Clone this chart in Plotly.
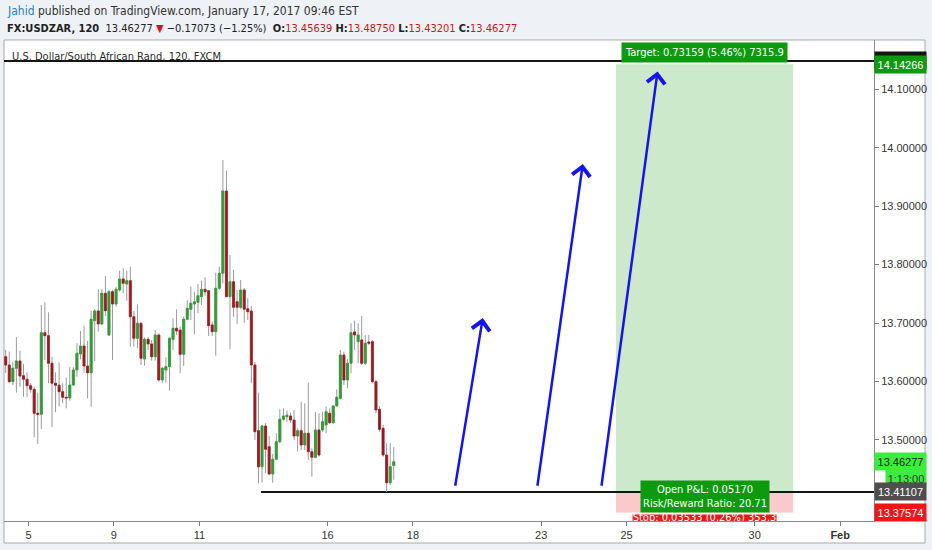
import numpy as np
import plotly.graph_objects as go

# USDZAR 2h bars (FXCM), Jan 4 - Jan 17 2017; x is the bar number, weekends skipped
opens = [13.6425, 13.6283, 13.5998, 13.6227, 13.6352, 13.6100, 13.6039, 13.5929, 13.5867, 13.5457,
         13.5440, 13.6836, 13.6785, 13.6312, 13.5970, 13.5936, 13.5826, 13.5731, 13.5719, 13.5941,
         13.6198, 13.6471, 13.6608, 13.6266, 13.6152, 13.7041, 13.7207, 13.6985, 13.7510, 13.6797,
         13.7537, 13.7327, 13.7567, 13.7755, 13.7669, 13.7726, 13.7110, 13.6740, 13.6997, 13.6386,
         13.6723, 13.6643, 13.6425, 13.6797, 13.6027, 13.6198, 13.6254, 13.6723, 13.6911, 13.6882,
         13.6466, 13.7065, 13.7236, 13.7327, 13.7356, 13.7452, 13.7578, 13.7555, 13.6968, 13.6853,
         13.7596, 13.7852, 13.9260, 13.7452, 13.7708, 13.7366, 13.7270, 13.7567, 13.7246, 13.7207,
         13.6283, 13.5159, 13.4543, 13.5240, 13.4885, 13.4418, 13.4670, 13.4971, 13.5354, 13.5399,
         13.5411, 13.5342, 13.5068, 13.5159, 13.4914, 13.5115, 13.4800, 13.4704, 13.5171, 13.5171,
         13.5257, 13.5457, 13.5296, 13.5582, 13.5713, 13.6454, 13.6027, 13.6312, 13.6848, 13.6682,
         13.6711, 13.6312, 13.6677, 13.6682, 13.5998, 13.5525, 13.5200, 13.4743, 13.4269, 13.45639]
highs = [13.6540, 13.6511, 13.6340, 13.6762, 13.6528, 13.6300, 13.6158, 13.5975, 13.5912, 13.5809,
         13.7310, 13.7356, 13.7185, 13.6425, 13.6158, 13.6329, 13.5970, 13.6066, 13.6244, 13.6244,
         13.6655, 13.6865, 13.6951, 13.6694, 13.7212, 13.7236, 13.7578, 13.7578, 13.7806, 13.7567,
         13.7567, 13.7623, 13.7897, 13.7938, 13.7897, 13.7965, 13.7207, 13.7322, 13.7007, 13.6757,
         13.6757, 13.6711, 13.6882, 13.6826, 13.6254, 13.6415, 13.6757, 13.7082, 13.7236, 13.6939,
         13.7110, 13.7395, 13.7623, 13.7537, 13.7669, 13.7726, 13.7784, 13.7555, 13.7024, 13.7862,
         13.7965, 13.9791, 13.9608, 13.8165, 13.7909, 13.7567, 13.7738, 13.7596, 13.7424, 13.7293,
         13.6335, 13.5809, 13.5257, 13.5286, 13.5068, 13.4760, 13.5115, 13.5525, 13.5542, 13.5501,
         13.5467, 13.5513, 13.5200, 13.5655, 13.5628, 13.5980, 13.4858, 13.5484, 13.5457, 13.5484,
         13.5570, 13.5542, 13.5599, 13.5867, 13.6540, 13.6511, 13.6381, 13.6997, 13.7041, 13.6997,
         13.7122, 13.6797, 13.6797, 13.6711, 13.6027, 13.5582, 13.5257, 13.4944, 13.4944, 13.48750]
lows = [13.6146, 13.5975, 13.5941, 13.5809, 13.5912, 13.5741, 13.5731, 13.5809, 13.5046, 13.4932,
        13.5183, 13.6369, 13.5970, 13.5217, 13.5474, 13.5570, 13.5628, 13.5542, 13.5672, 13.5924,
        13.6083, 13.6381, 13.6152, 13.5713, 13.5570, 13.6352, 13.6853, 13.6968, 13.7122, 13.6780,
        13.6369, 13.7281, 13.7537, 13.7510, 13.7383, 13.6596, 13.6596, 13.6569, 13.6283, 13.6271,
        13.6540, 13.6357, 13.6357, 13.5998, 13.5970, 13.5980, 13.5844, 13.6540, 13.6797, 13.6141,
        13.6266, 13.7053, 13.7053, 13.6808, 13.7168, 13.7310, 13.7464, 13.6779, 13.6779, 13.6442,
        13.7567, 13.7681, 13.7440, 13.6552, 13.7110, 13.6985, 13.7236, 13.7007, 13.7053, 13.5970,
        13.5000, 13.4259, 13.4269, 13.4430, 13.4401, 13.4269, 13.4658, 13.4944, 13.5330, 13.5313,
        13.5296, 13.5000, 13.4800, 13.4829, 13.4829, 13.4658, 13.4372, 13.4687, 13.4714, 13.5142,
        13.5115, 13.5274, 13.5274, 13.5570, 13.5696, 13.5941, 13.5885, 13.6141, 13.6540, 13.6312,
        13.6283, 13.6283, 13.6625, 13.5970, 13.5457, 13.5142, 13.4714, 13.4111, 13.4230, 13.43201]
closes = [13.6283, 13.5998, 13.6227, 13.6352, 13.6095, 13.6039, 13.5929, 13.5867, 13.5457, 13.5440,
          13.6836, 13.6785, 13.6312, 13.5970, 13.5936, 13.5826, 13.5731, 13.5719, 13.5941, 13.6198,
          13.6483, 13.6608, 13.6266, 13.6152, 13.7065, 13.7207, 13.6985, 13.7510, 13.7212, 13.7537,
          13.7327, 13.7578, 13.7755, 13.7681, 13.7726, 13.7110, 13.6740, 13.6997, 13.6398, 13.6723,
          13.6643, 13.6425, 13.6797, 13.6027, 13.6227, 13.6254, 13.6740, 13.6911, 13.6865, 13.6466,
          13.7065, 13.7253, 13.7339, 13.7366, 13.7469, 13.7578, 13.7537, 13.6956, 13.6853, 13.7596,
          13.7852, 13.9260, 13.7452, 13.7708, 13.7270, 13.7270, 13.7567, 13.7236, 13.7195, 13.6283,
          13.5142, 13.4543, 13.5240, 13.4841, 13.4418, 13.4670, 13.4971, 13.5354, 13.5411, 13.5423,
          13.5342, 13.5068, 13.5159, 13.4914, 13.5115, 13.4800, 13.4704, 13.5171, 13.4743, 13.5313,
          13.5484, 13.5296, 13.5582, 13.5731, 13.6454, 13.6027, 13.6312, 13.6836, 13.6797, 13.6797,
          13.6312, 13.6655, 13.6655, 13.5998, 13.5513, 13.5183, 13.4743, 13.4269, 13.4543, 13.46277]

day_ticks = [6.4, 30.4, 54.4, 90.4, 114.4, 150.4, 174.4, 210.4, 234.4]
day_labels = ['5', '9', '11', '16', '18', '23', '25', '30', '<b>Feb</b>']
price_ticks = [13.5, 13.6, 13.7, 13.8, 13.9, 14.0, 14.1]

resistance = 14.1485
support = 13.41107
support_start = 71.7
target = 14.14266
stop = 13.37574
last_price = 13.46277

# long position tool span (bars) and the three hand drawn arrows (bar, price)
pos_start, pos_end = 171.4, 221.2
arrow_tails = [(126.2, 13.4191), (149.3, 13.4191), (167.3, 13.4191)]
arrow_heads = [(134.0, 13.7085), (162.1, 13.9722), (183.1, 14.1306)]

COND = 'DejaVu Sans Condensed, Liberation Sans, sans-serif'
AXF = 'Liberation Sans, Arial, sans-serif'
GREEN = '#2c9f31'
RED = '#a3161a'
WICK = '#9a9a9a'
TV_GREEN = '#0e9a0e'

# plot area in pixels, used to place paper-referenced bits
L, R, T, B = 4, 874, 40, 521
X_RANGE = [-0.48, 243.9]
Y_RANGE = [13.3614, 14.1843]


def px(x):
    return (x - L) / (R - L)


def py(y):
    return (B - y) / (B - T)


idx = np.arange(len(opens))
o = np.array(opens)
c = np.array(closes)
body_hi = np.maximum(o, c)
body_lo = np.minimum(o, c)

fig = go.Figure()
# wicks first (grey), bodies drawn on top
fig.add_trace(go.Candlestick(
    x=idx, open=opens, high=highs, low=lows, close=closes,
    increasing=dict(line=dict(color=WICK, width=1), fillcolor=WICK),
    decreasing=dict(line=dict(color=WICK, width=1), fillcolor=WICK),
    whiskerwidth=0, showlegend=False, hoverinfo='skip'))
fig.add_trace(go.Candlestick(
    x=idx, open=opens, high=body_hi, low=body_lo, close=closes,
    increasing=dict(line=dict(color=GREEN, width=0.6), fillcolor=GREEN),
    decreasing=dict(line=dict(color=RED, width=0.6), fillcolor=RED),
    whiskerwidth=0, showlegend=False))

# stop label of the position tool, mostly hidden under the time axis
fig.add_trace(go.Scatter(
    x=[(pos_start + pos_end) / 2], y=[stop], mode='text',
    text=['Stop: 0.03533 (0.26%) 353.3'], textposition='bottom center',
    textfont=dict(family=COND, size=11, color='white'),
    showlegend=False, hoverinfo='skip', cliponaxis=True))

shapes = [
    # white chart panel with grey frame
    dict(type='rect', xref='paper', yref='paper', x0=0, x1=px(925), y0=py(543), y1=1,
         fillcolor='white', line=dict(color='#a9a9a9', width=1), layer='below'),
    # profit / loss zones
    dict(type='rect', xref='x', yref='y', x0=pos_start, x1=pos_end, y0=support, y1=target,
         fillcolor='#cce9cc', line=dict(width=0), layer='below'),
    dict(type='rect', xref='x', yref='y', x0=pos_start, x1=pos_end, y0=stop, y1=support,
         fillcolor='#fac9c9', line=dict(width=0), layer='below'),
    dict(type='rect', xref='x', yref='y', xsizemode='pixel', xanchor=(pos_start + pos_end) / 2,
         x0=-72, x1=72, ysizemode='pixel', yanchor=stop, y0=-2, y1=-40,
         fillcolor='#f01616', line=dict(width=0), layer='below'),
    # horizontal lines
    dict(type='line', xref='paper', yref='y', x0=0, x1=1, y0=resistance, y1=resistance,
         line=dict(color='#151515', width=2), layer='below'),
    dict(type='line', xref='x', yref='y', x0=support_start, x1=X_RANGE[1], y0=support, y1=support,
         line=dict(color='#151515', width=2), layer='below'),
]

annotations = [
    dict(xref='paper', yref='paper', x=px(5), y=py(11), xanchor='left', yanchor='middle',
         showarrow=False, font=dict(family=COND, size=12, color='#333'),
         text="<span style='color:#2a7fc4'>Jahid</span> published on TradingView.com, "
              "January 17, 2017 09:46 EST"),
    dict(xref='paper', yref='paper', x=px(5), y=py(28), xanchor='left', yanchor='middle',
         showarrow=False, font=dict(family=COND, size=11, color='#222'),
         text="<b>FX:USDZAR, 120</b>  13.46277 <span style='color:#d0161b'>▼</span>"
              " −0.17073 (−1.25%)  <b>O:</b><span style='color:#c8161c'>13.45639</span>"
              " <b>H:</b><span style='color:#c8161c'>13.48750</span>"
              " <b>L:</b><span style='color:#c8161c'>13.43201</span>"
              " <b>C:</b><span style='color:#c8161c'>13.46277</span>"),
    dict(xref='paper', yref='paper', x=px(10), y=py(56), xanchor='left', yanchor='middle',
         showarrow=False, font=dict(family=COND, size=11, color='#2b2b2b'),
         text='U.S. Dollar/South African Rand, 120, FXCM'),
    # position tool labels
    dict(xref='x', yref='y', x=(pos_start + pos_end) / 2, y=target, yanchor='bottom', yshift=1,
         showarrow=False, bgcolor=TV_GREEN, borderpad=3,
         font=dict(family=COND, size=11, color='white'),
         text='Target: 0.73159 (5.46%) 7315.9'),
    dict(xref='x', yref='y', x=(pos_start + pos_end) / 2, y=support, yanchor='middle', yshift=-5,
         showarrow=False, bgcolor=TV_GREEN, borderpad=2,
         font=dict(family=COND, size=11, color='white'),
         text='Open P&L: 0.05170<br>Risk/Reward Ratio: 20.71'),
]

# blue arrows
for (tx, ty), (hx, hy) in zip(arrow_tails, arrow_heads):
    annotations.append(dict(
        xref='x', yref='y', axref='x', ayref='y', x=hx, y=hy, ax=tx, ay=ty, text='',
        showarrow=True, arrowhead=4, arrowsize=1.4, arrowwidth=2.5, arrowcolor='#1414f0',
        standoff=0, startstandoff=0))


# price scale labels
def price_label(val, text, bg, fg, yshift=0, x=1, width=49):
    return dict(xref='paper', yref='y', x=x, y=val, xanchor='left', yanchor='middle',
                yshift=yshift, showarrow=False, text=text, bgcolor=bg, width=width,
                height=15, borderpad=1, align='center',
                font=dict(family=AXF, size=11, color=fg))


annotations += [
    price_label(resistance, '', '#151515', 'white'),
    price_label(target, '%.5f' % target, TV_GREEN, 'white'),
    price_label(last_price, '1:13:00', '#3ded3d', '#333', yshift=-17, x=px(885), width=38),
    price_label(last_price, '%.5f' % last_price, '#3ded3d', '#222'),
    price_label(support, '%.5f' % support, '#4e4e4e', 'white'),
    price_label(stop, '%.5f' % stop, '#f01616', 'white'),
]

fig.update_layout(
    width=932, height=550,
    margin=dict(l=L, r=932 - R, t=T, b=550 - B, pad=0),
    paper_bgcolor='#eef1f5', plot_bgcolor='white',
    shapes=shapes, annotations=annotations,
    showlegend=False, hovermode=False, boxgap=0.2,
    xaxis=dict(range=X_RANGE, tickmode='array', tickvals=day_ticks, ticktext=day_labels,
               ticks='outside', ticklen=4, tickcolor='#777', showline=True, linecolor='#8a8a8a',
               showgrid=False, zeroline=False, rangeslider=dict(visible=False), automargin=False,
               tickfont=dict(family=AXF, size=11, color='#333')),
    yaxis=dict(range=Y_RANGE, side='right', tickmode='array', tickvals=price_ticks,
               ticktext=['%.5f' % v for v in price_ticks], ticks='outside', ticklen=4,
               tickcolor='#777', showline=True, linecolor='#8a8a8a', showgrid=False,
               zeroline=False, automargin=False,
               tickfont=dict(family=AXF, size=11, color='#333')),
)

# the page is exactly the figure size, so drop the default body margin
fig.write_html("out.html", config={'displayModeBar': False},
               post_script="document.body.style.margin='0';document.body.style.overflow='hidden';")
